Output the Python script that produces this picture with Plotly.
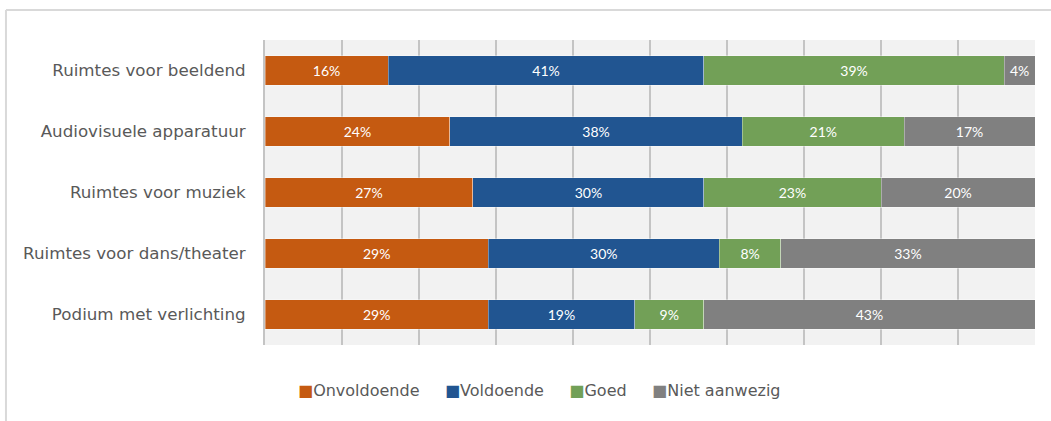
import plotly.graph_objects as go

categories = [
    "Ruimtes voor beeldend",
    "Audiovisuele apparatuur",
    "Ruimtes voor muziek",
    "Ruimtes voor dans/theater",
    "Podium met verlichting",
]
onvoldoende = [16, 24, 27, 29, 29]
voldoende = [41, 38, 30, 30, 19]
goed = [39, 21, 23, 8, 9]
niet_aanwezig = [4, 17, 20, 33, 43]

series = [
    ("Onvoldoende", onvoldoende, "#c55a11"),
    ("Voldoende", voldoende, "#215591"),
    ("Goed", goed, "#72a057"),
    ("Niet aanwezig", niet_aanwezig, "#808080"),
]

fig = go.Figure()
for name, vals, color in series:
    fig.add_trace(go.Bar(
        y=categories,
        x=vals,
        name=name,
        orientation="h",
        marker=dict(color=color, line=dict(color="rgba(255,255,255,0.35)", width=1)),
        text=[f"{v}%" for v in vals],
        textposition="inside",
        insidetextanchor="middle",
        textfont=dict(family="Lato", size=14, color="white"),
        constraintext="none",
        hoverinfo="skip",
        showlegend=False,
    ))

# compact legend: coloured square right before each series name
gap = "\u00a0" * 5
legend_text = gap.join(
    f"<span style='color:{color}'>\u25a0</span>{name}" for name, _, color in series
)
fig.add_annotation(
    xref="paper", yref="paper", x=0.357, y=-0.148,
    xanchor="center", yanchor="middle", showarrow=False,
    text=legend_text,
    font=dict(family="DejaVu Sans", size=16, color="#595959"),
)

fig.update_layout(
    barmode="stack",
    bargap=0.51,
    width=1051,
    height=421,
    margin=dict(l=265, r=16, t=40, b=76),
    paper_bgcolor="white",
    plot_bgcolor="#f2f2f2",
    font=dict(family="DejaVu Sans", color="#595959"),
    showlegend=False,
)

fig.update_xaxes(
    range=[0, 100],
    dtick=10,
    showgrid=True,
    gridcolor="#c4c4c4",
    gridwidth=2,
    showticklabels=False,
    zeroline=False,
    showline=False,
    fixedrange=True,
)
fig.update_yaxes(
    categoryorder="array",
    categoryarray=categories[::-1],
    showgrid=False,
    ticks="",
    ticklabelstandoff=14,
    tickfont=dict(family="DejaVu Sans", size=16.7, color="#595959"),
    showline=True,
    linecolor="#c4c4c4",
    linewidth=2,
    fixedrange=True,
)

# outer chart frame (top and left edges)
fig.add_shape(type="line", xref="paper", yref="paper",
              x0=-0.3364, x1=1.05, y0=1.0984, y1=1.0984,
              line=dict(color="#d9d9d9", width=2))
fig.add_shape(type="line", xref="paper", yref="paper",
              x0=-0.3364, x1=-0.3364, y0=1.0984, y1=-0.3,
              line=dict(color="#d9d9d9", width=2))

fig.write_html("out.html")
